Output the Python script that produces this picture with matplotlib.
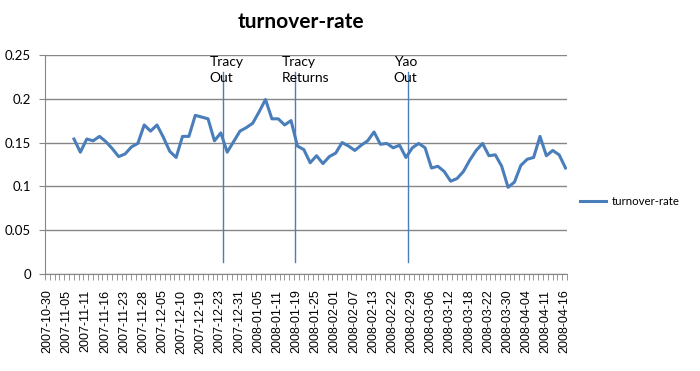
import matplotlib
matplotlib.use("Agg")
import matplotlib.pyplot as plt

# x-axis categories (game dates); only every 4th one is labelled in the chart
n_categories = 109
tick_labels = ["2007-10-30", "2007-11-05", "2007-11-11", "2007-11-16", "2007-11-23",
               "2007-11-28", "2007-12-05", "2007-12-10", "2007-12-19", "2007-12-23",
               "2007-12-31", "2008-01-05", "2008-01-11", "2008-01-19", "2008-01-25",
               "2008-02-01", "2008-02-07", "2008-02-13", "2008-02-22", "2008-02-29",
               "2008-03-06", "2008-03-12", "2008-03-18", "2008-03-22", "2008-03-30",
               "2008-04-04", "2008-04-11", "2008-04-16"]

# turnover-rate series
turnover_rate = [0.154, 0.139, 0.154, 0.152, 0.157, 0.151, 0.143, 0.134, 0.137, 0.145,
                 0.149, 0.170, 0.163, 0.170, 0.156, 0.140, 0.133, 0.157, 0.157, 0.181,
                 0.179, 0.177, 0.152, 0.161, 0.139, 0.151, 0.163, 0.167, 0.172, 0.185,
                 0.199, 0.177, 0.177, 0.170, 0.175, 0.146, 0.142, 0.127, 0.135, 0.126,
                 0.134, 0.138, 0.150, 0.146, 0.141, 0.147, 0.152, 0.162, 0.148, 0.149,
                 0.144, 0.147, 0.133, 0.144, 0.149, 0.144, 0.121, 0.123, 0.117, 0.106,
                 0.109, 0.117, 0.130, 0.141, 0.149, 0.135, 0.136, 0.123, 0.099, 0.105,
                 0.124, 0.131, 0.133, 0.157, 0.135, 0.141, 0.136, 0.121]

# events marked with vertical lines (position on the category axis)
event_labels = ["Tracy\nOut", "Tracy\nReturns", "Yao\nOut"]
event_pos = [36.7, 51.8, 75.2]

line_col = "#4A7EBB"
grid_col = "#868686"

fig = plt.figure(figsize=(7, 3.71), dpi=100)
ax = fig.add_axes([0.0643, 0.2606, 0.7457, 0.592])

ax.set_xlim(-0.5, n_categories - 0.5)
ax.set_ylim(0, 0.25)
yt = [0, 0.05, 0.1, 0.15, 0.2, 0.25]
ax.set_yticks(yt)
ax.set_yticklabels(["0", "0.05", "0.1", "0.15", "0.2", "0.25"], fontfamily="Lato", fontsize=9.5)
ax.yaxis.grid(True, color=grid_col, linewidth=1)
ax.set_axisbelow(True)

ax.set_xticks(range(0, n_categories, 4))
ax.set_xticklabels(tick_labels, rotation=90, fontfamily="Liberation Sans", fontsize=9)
ax.set_xticks([i - 0.5 for i in range(n_categories + 1)], minor=True)
ax.tick_params(axis="x", which="major", length=0, pad=11)
ax.tick_params(axis="x", which="minor", length=4, color=grid_col, direction="out")
ax.tick_params(axis="y", length=4, color=grid_col, pad=6)

for s in ["top", "right"]:
    ax.spines[s].set_visible(False)
for s in ["left", "bottom"]:
    ax.spines[s].set_color(grid_col)

for lab, p in zip(event_labels, event_pos):
    ax.plot([p, p], [0.014, 0.23], color=line_col, linewidth=1)
    ax.annotate(lab, xy=(p, 0.25), xytext=(-10, -1), textcoords="offset points",
                ha="left", va="top", fontfamily="Lato", fontsize=10, linespacing=1.35)

# series on a secondary category axis (one step per game)
ax2 = ax.twiny()
ln, = ax2.plot(range(len(turnover_rate)), turnover_rate, color=line_col, linewidth=2.2,
               solid_joinstyle="round", label="turnover-rate")
ax2.set_xlim(-4.54, len(turnover_rate) - 1 + 0.23)
ax2.set_axis_off()

fig.text(0.43, 0.94, "turnover-rate", ha="center", va="center",
         fontfamily="Lato", fontweight="bold", fontsize=15)

ax.legend(handles=[ln], loc="center left", bbox_to_anchor=(0.814, 0.458),
          bbox_transform=fig.transFigure, frameon=False, handlelength=2.2,
          handletextpad=0.5, prop={"family": "Lato", "size": 8.3})

fig.savefig("out.png", dpi=100)
